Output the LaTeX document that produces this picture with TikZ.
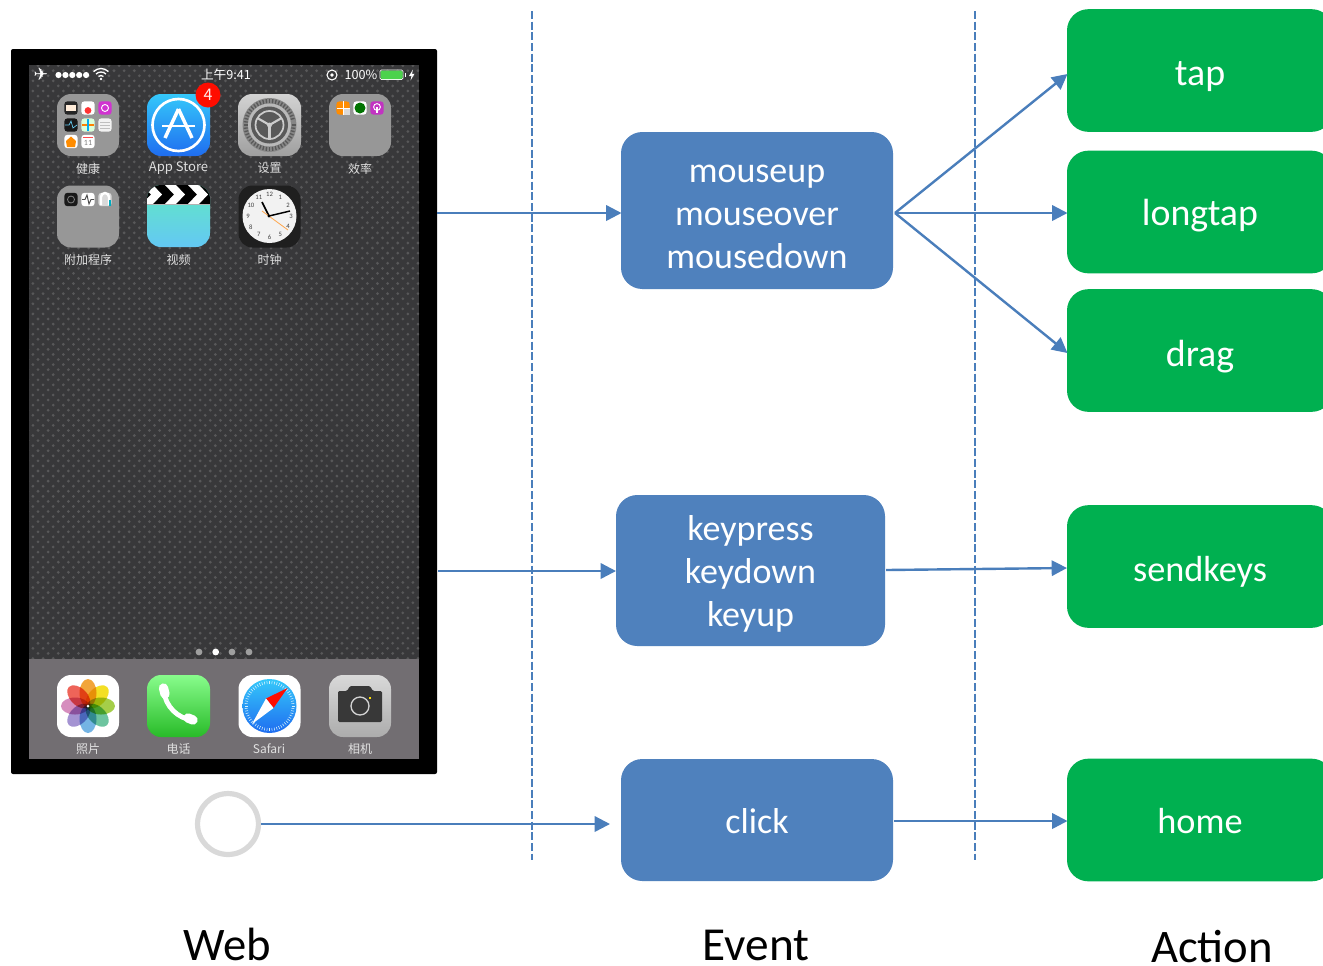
\documentclass[tikz,border=0pt]{standalone}
\usepackage{fontspec}
\setmainfont{Carlito}
\newfontfamily\cjk{Noto Sans CJK SC}
\newfontfamily\dejavu{DejaVu Sans}
\usetikzlibrary{arrows.meta,patterns,calc}
\definecolor{linkblue}{HTML}{4A7EBB}
\definecolor{boxblue}{HTML}{4F81BD}
\definecolor{boxgreen}{HTML}{00B050}
\definecolor{wall}{HTML}{38383A}
\definecolor{walldot}{HTML}{585859}
\definecolor{dockgrey}{HTML}{726E72}
\definecolor{foldergrey}{HTML}{979797}
\definecolor{pa}{HTML}{F2A53A}\definecolor{pb}{HTML}{F4DF24}\definecolor{pc}{HTML}{A5CE49}\definecolor{pd}{HTML}{6DC49F}
\definecolor{pe}{HTML}{74B4E4}\definecolor{pf}{HTML}{A493D2}\definecolor{pg}{HTML}{D68DBE}\definecolor{ph}{HTML}{EE6459}
\definecolor{sky}{HTML}{35C8FA}\definecolor{deepsky}{HTML}{1F6DF0}
\definecolor{mint}{HTML}{62E8C2}\definecolor{aqua}{HTML}{63C8F4}
\definecolor{lime}{HTML}{88FC8C}\definecolor{leaf}{HTML}{28BB28}
\pgfdeclarepatternformonly{dotgrid}{\pgfqpoint{-1pt}{-1pt}}{\pgfqpoint{8pt}{8pt}}{\pgfqpoint{7.6pt}{7.6pt}}{%
  \pgfpathcircle{\pgfqpoint{1.9pt}{1.9pt}}{1.15pt}%
  \pgfpathcircle{\pgfqpoint{5.7pt}{5.7pt}}{1.15pt}%
  \pgfusepath{fill}}
\tikzset{
  eventbox/.style={draw=none,fill=boxblue,rounded corners=16pt,inner sep=0pt,text=white,
    font=\fontsize{27}{32.3}\selectfont},
  actionbox/.style={draw=none,fill=boxgreen,rounded corners=16pt,inner sep=0pt,text=white,
    minimum width=199.5pt,minimum height=92pt,font=\fontsize{28.4}{32}\selectfont},
  link/.style={draw=linkblue,line width=1.8pt,-{Triangle[length=11.5pt,width=11.5pt]}},
  divider/.style={draw=linkblue,line width=2pt,dash pattern=on 6pt off 2pt},
  columntitle/.style={inner sep=0pt,text=black,font=\fontsize{35.5}{40}\selectfont},
  applabel/.style={inner sep=0pt,text=white!88!black,font=\cjk\fontsize{9}{10}\selectfont},
  statustext/.style={inner sep=0pt,text=white,font=\cjk\fontsize{9.5}{10}\selectfont},
  iconshape/.style={rounded corners=10.5pt},
}
\newcommand{\iconbox}[3]{\fill[iconshape,#3] (#1-31,#2-31) rectangle (#1+31,#2+31);}
\newcommand{\miniicon}[3]{\fill[rounded corners=2.4pt,#3] (#1-6.7,#2-6.7) rectangle (#1+6.7,#2+6.7);}
\newcommand{\lifted}[2]{\raisebox{#1}[0pt][0pt]{\begin{tabular}{@{}c@{}}#2\end{tabular}}}
\begin{document}
\begin{tikzpicture}[x=0.75pt,y=-0.75pt]
\useasboundingbox (0,0) rectangle (1323,965);
\clip (0,0) rectangle (1323,965);
\fill[white] (0,0) rectangle (1323,965);

% phone
\node[fill=black,inner sep=0pt,minimum width=319.5pt,minimum height=543.75pt,rounded corners=1.5pt] (phone) at (224,411.5) {};
\fill[wall] (29,65) rectangle (419,659);
\fill[pattern=dotgrid,pattern color=walldot] (29,65) rectangle (419,659);
\fill[dockgrey] (29,659) rectangle (419,759);

% status bar
\node[inner sep=0pt,text=white,font=\dejavu\fontsize{13}{13}\selectfont] (plane) at (41,74.5) {✈};
\foreach \i in {0,...,4} \fill[white] (58.5+\i*6.9,75) circle (3.1);
\foreach \r in {3.5,7,10.5} \draw[white,line width=1pt] ($(101,79)+(-135:\r)$) arc (-135:-45:\r);
\fill[white] (101,79) circle (1.4);
\node[statustext] (clocktext) at (226,75) {上午9:41};
\draw[white,line width=.8pt] (332,75) circle (5);
\fill[white] (332,75) circle (1.8);
\node[statustext] (percent) at (361,75) {100\%};
\draw[white,line width=.6pt,rounded corners=1pt] (380,70) rectangle (403,79.5);
\fill[green!75!black!70!white,rounded corners=1pt] (380.5,70.5) rectangle (402.5,79);
\fill[white] (404.5,73) rectangle (405.5,77);
\fill[white] (413,69.5) -- (409,76) -- (411.5,76) -- (410.5,80.5) -- (414.5,73.8) -- (412,73.8) -- cycle;

% folder health
\iconbox{88}{125}{foldergrey}
\miniicon{71}{108}{black!85}
\fill[white!85!orange] (66,105) rectangle (76,111);
\miniicon{88}{108}{white}
\fill[red!80!white] (88,110.5) circle (3.4);
\miniicon{105}{108}{violet!45!magenta!80!white}
\draw[white,line width=.7pt] (105,108) circle (3.5);
\miniicon{71}{125}{black!90}
\draw[cyan!60!white,line width=.5pt] (65,125) -- (69,125) -- (71,121) -- (73,128) -- (77,125);
\miniicon{88}{125}{white!85!green}
\draw[orange,line width=.8pt] (82,125) -- (94,125);
\draw[cyan,line width=.8pt] (88,119) -- (88,131);
\miniicon{105}{125}{white!95!black}
\foreach \k in {-3,0,3} \draw[gray!50,line width=.4pt] (100,125+\k) -- (110,125+\k);
\miniicon{71}{141.5}{white}
\fill[orange!90!yellow] (71,136.5) -- (76,141) -- (75,147) -- (67,147) -- (66,141) -- cycle;
\miniicon{88}{141.5}{white}
\fill[red!70] (83,136.5) rectangle (93,137.8);
\node[inner sep=0pt,text=gray,font=\fontsize{6}{6}\selectfont] (caldate) at (88,142.5) {11};
\node[applabel] (lhealth) at (88,168.5) {健康};

% App Store
\shade[iconshape,top color=sky,bottom color=deepsky] (147,94) rectangle (210,156);
\draw[white,line width=2pt] (178.5,125) circle (26);
\draw[white,line width=2.6pt] (178.5,109) -- (165,138);
\draw[white,line width=2.6pt] (178.5,109) -- (192,138);
\draw[white,line width=1.8pt] (162,126) -- (195,126);
\fill[red!90!orange] (208,95) circle (12.5);
\node[inner sep=0pt,text=white!92!red,font=\cjk\fontsize{12}{12}\selectfont] (badge) at (208,95) {4};
\node[applabel,font=\cjk\fontsize{9.8}{10}\selectfont] (lstore) at (178.5,168.5) {App Store};

% Settings
\shade[iconshape,top color=gray!35,bottom color=gray!75] (238,94) rectangle (301,156);
\fill[gray!95] (269.5,125) circle (27);
\foreach \a in {0,7.5,...,352} \draw[black!65,line width=1pt] ($(269.5,125)+(\a:22)$) -- ($(269.5,125)+(\a:26)$);
\fill[gray!55] (269.5,125) circle (21.5);
\fill[black!65] (269.5,125) circle (18.5);
\draw[gray!40,line width=1.3pt] (269.5,125) circle (14);
\foreach \a in {90,210,330} \draw[gray!40,line width=1.6pt] (269.5,125) -- ($(269.5,125)+(\a:14)$);
\fill[gray!40] (269.5,125) circle (2.5);
\node[applabel] (lset) at (269.5,168.5) {设置};

% Efficiency folder
\iconbox{360}{125}{foldergrey}
\miniicon{343}{108}{orange!90!yellow}
\fill[white!70!gray] (344,109) rectangle (350,115);
\draw[white,line width=.5pt] (337,108) -- (350,108);
\draw[white,line width=.5pt] (343.5,101) -- (343.5,115);
\miniicon{360}{108}{white}
\fill[green!45!black] (360,108) circle (5.5);
\miniicon{377}{108}{violet!60!magenta!80!white}
\draw[white,line width=.7pt] (377,107) circle (3.4);
\fill[white] (376.3,107) rectangle (377.7,113);
\node[applabel] (leff) at (360,168.5) {效率};

% Extras folder
\iconbox{88}{216.5}{foldergrey}
\miniicon{71}{199.5}{black!90}
\draw[gray,line width=.6pt] (71,199.5) circle (3.5);
\miniicon{88}{199.5}{white}
\draw[black!70,line width=.7pt] (82,199.5) -- (85,199.5) -- (87,195) -- (89,204) -- (91,199.5) -- (94,199.5);
\miniicon{105}{199.5}{gray!30}
\draw[white,line width=1.8pt] (101,205) -- (101,197) arc (180:360:4) -- (109,205);
\fill[cyan!70!green] (109,200) rectangle (111,206);
\node[applabel] (lextra) at (88,259.5) {附加程序};

% Video
\shade[iconshape,top color=mint,bottom color=aqua] (147,185) rectangle (210,247);
\begin{scope}
\clip[iconshape] (147,185) rectangle (210,247);
\fill[black] (147,185) rectangle (210,204);
\foreach \x in {147,170,193} \fill[white] (\x-5,185) -- (\x+6,185) -- (\x+15,194.5) -- (\x+6,204) -- (\x-5,204) -- (\x+4,194.5) -- cycle;
\fill[gray!60] (147,204) rectangle (210,205);
\end{scope}
\node[applabel] (lvideo) at (178.5,259.5) {视频};

% Clock
\iconbox{269.5}{216.5}{black!88}
\fill[white!95!black] (269.5,216) circle (27);
\foreach \n/\a in {1/-60,2/-30,3/0,4/30,5/60,6/90,7/120,8/150,9/180,10/210,11/240,12/270}
  \node[inner sep=0pt,text=black!75,font=\fontsize{5}{5}\selectfont] (num\n) at ($(269.5,216)+(\a:21.5)$) {\n};
\draw[black,line width=1.3pt] (269,216) -- (262,202);
\draw[black,line width=1.1pt] (269,216) -- (290,211);
\draw[orange!70!white,line width=.6pt] (262,211) -- (288,230);
\fill[black] (269,216) circle (1.6);
\node[applabel] (lclock) at (269.5,259.5) {时钟};

% Page dots
\foreach \x in {199,232,249} \fill[gray!75] (\x,652) circle (3.4);
\fill[white] (215.7,652) circle (3.4);

% Photos
\iconbox{88}{706}{white}
\foreach \a/\c in {270/pa,315/pb,0/pc,45/pd,90/pe,135/pf,180/pg,225/ph}
  \fill[\c,blend mode=multiply,rotate around={-\a:(88,706)}] (101,706) ellipse (14 and 8.5);
\fill[white] (88,706) circle (1.5);
\node[applabel] (lphotos) at (88,749) {照片};

% Phone
\shade[iconshape,top color=lime,bottom color=leaf] (147,675) rectangle (210,737);
\draw[white,line width=3.6pt,line cap=round] (164,691) .. controls (165,706) and (178,719) .. (193,720);
\draw[white,line width=7pt,line cap=round] (163.5,688) -- (165,694);
\draw[white,line width=7pt,line cap=round] (188,718) -- (193,720);
\node[applabel] (lcall) at (178.5,749) {电话};

% Safari
\iconbox{269.5}{706}{white}
\shade[top color=sky,bottom color=deepsky] (269.5,706) circle (27);
\foreach \a in {0,6,...,354} \draw[white!85!cyan,line width=.4pt] ($(269.5,706)+(\a:22)$) -- ($(269.5,706)+(\a:25)$);
\fill[red!90!orange] (287.5,688) -- (266,698.5) -- (273.5,708) -- cycle;
\fill[white] (252,724) -- (266,698.5) -- (273.5,708) -- cycle;
\node[applabel] (lsafari) at (269,749) {Safari};

% Camera
\shade[iconshape,top color=gray!30,bottom color=gray!65] (329,675) rectangle (391,737);
\fill[black!78,rounded corners=1pt] (338,691) -- (347,691) -- (350,686) -- (370,686) -- (373,691) -- (382,691) -- (382,722) -- (338,722) -- cycle;
\draw[gray!35,line width=1pt] (360,706) circle (9);
\fill[yellow!80!orange] (368.5,697) rectangle (370.5,699);
\node[applabel] (lcam) at (360,749) {相机};

% home button
\node[circle,draw=black!15,line width=3.9pt,fill=white,minimum size=45.7pt,inner sep=0pt] (home) at (228,824) {};

% dividers
\coordinate (d1a) at (532,11); \coordinate (d1b) at (532,860);
\coordinate (d2a) at (975,11); \coordinate (d2b) at (975,860);
\draw[divider] (d1a) -- (d1b);
\draw[divider] (d2a) -- (d2b);

% event boxes
\node[eventbox,minimum width=204pt,minimum height=117.75pt] (mouse) at (757,210.5) {\lifted{-11.3pt}{mouseup\\mouseover\\mousedown}};
\node[eventbox,minimum width=201.75pt,minimum height=113.25pt] (key) at (750.5,570.5) {\lifted{-9.25pt}{keypress\\keydown\\keyup}};
\node[eventbox,minimum width=204pt,minimum height=91.5pt] (click) at (757,820) {\lifted{-10pt}{click}};

% action boxes
\node[actionbox] (tap) at (1200,70.5) {\lifted{-11.3pt}{tap}};
\node[actionbox] (longtap) at (1200,212) {\lifted{-10pt}{longtap}};
\node[actionbox] (drag) at (1200,350.5) {\lifted{-12pt}{drag}};
\node[actionbox,font=\fontsize{27.2}{32}\selectfont] (sendkeys) at (1200,566.5) {\lifted{-11.3pt}{sendkeys}};
\node[actionbox,font=\fontsize{27.2}{32}\selectfont] (homeact) at (1200,820) {\lifted{-10pt}{home}};

% connectors
\coordinate (fan) at (895,213);
\coordinate (phoneA) at (437,213); \coordinate (mouseIn) at (621.5,213);
\coordinate (phoneB) at (438,571); \coordinate (keyIn) at (616,571);
\coordinate (clickIn) at (610,824);
\draw[link] (phoneA) -- (mouseIn);
\draw[link] (phoneB) -- (keyIn);
\draw[link] (home.east) -- (clickIn);
\coordinate (tapIn) at (1067.5,74); \coordinate (longIn) at (1067.5,213); \coordinate (dragIn) at (1067.5,353);
\draw[link] (fan) -- (tapIn);
\draw[link] (fan) -- (longIn);
\draw[link] (fan) -- (dragIn);
\coordinate (keyOut) at (886,570); \coordinate (sendIn) at (1067,568);
\draw[link] (keyOut) -- (sendIn);
\coordinate (clickOut) at (894,821) ; \coordinate (homeIn) at (1067.5,821);
\draw[link] (clickOut) -- (homeIn);

% column titles
\node[columntitle,font=\fontsize{35}{40}\selectfont] (web) at (227,944) {Web};
\node[columntitle] (event) at (756,945) {Event};
\node[columntitle,font=\fontsize{35}{40}\selectfont] (action) at (1212,947) {Action};
\end{tikzpicture}
\end{document}
